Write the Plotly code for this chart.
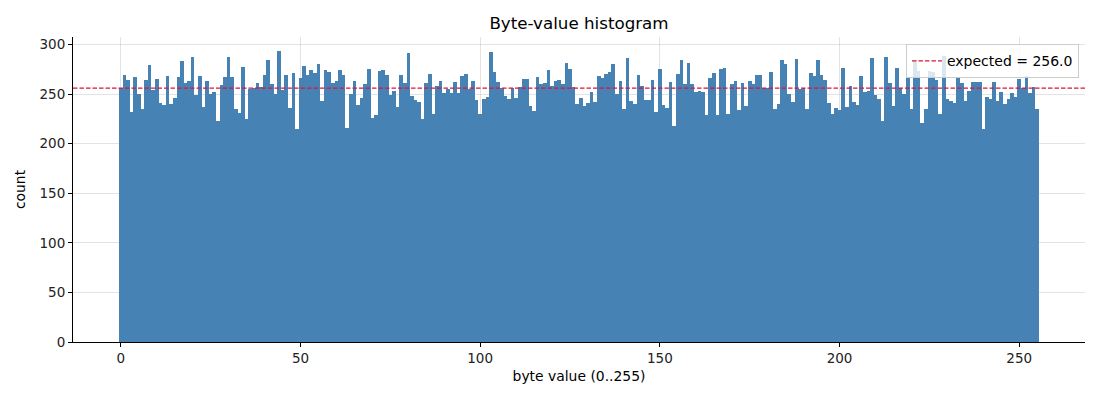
import plotly.graph_objects as go

# Byte values 0..255 and how often each one occurred
byte_values = list(range(256))
counts = [
    256, 269, 264, 232, 267, 250, 235, 264, 279, 254, 265, 241, 239, 268, 240, 246,
    267, 283, 261, 263, 287, 249, 268, 237, 263, 250, 252, 223, 259, 267, 287, 267,
    235, 231, 277, 225, 255, 256, 261, 257, 269, 284, 260, 250, 293, 254, 269, 236,
    271, 215, 266, 278, 269, 274, 271, 280, 243, 274, 272, 261, 263, 274, 269, 216,
    250, 263, 239, 246, 260, 275, 226, 229, 273, 274, 269, 249, 253, 237, 269, 261,
    291, 248, 244, 242, 225, 261, 270, 230, 258, 263, 251, 255, 251, 262, 251, 268,
    270, 255, 263, 244, 230, 245, 247, 292, 272, 262, 256, 248, 245, 256, 246, 257,
    265, 265, 238, 233, 267, 260, 261, 274, 258, 263, 264, 260, 281, 275, 257, 240,
    246, 238, 241, 252, 242, 268, 266, 270, 272, 280, 250, 263, 235, 286, 243, 240,
    269, 258, 244, 244, 264, 232, 275, 239, 236, 262, 218, 270, 284, 260, 281, 260,
    252, 253, 252, 229, 266, 271, 229, 275, 276, 230, 260, 263, 234, 261, 238, 263,
    260, 269, 269, 256, 256, 272, 235, 240, 284, 280, 250, 242, 285, 255, 256, 235,
    271, 268, 284, 269, 264, 241, 230, 236, 234, 276, 237, 258, 242, 239, 268, 252,
    253, 286, 249, 245, 223, 287, 261, 238, 276, 256, 250, 267, 235, 284, 273, 221,
    235, 273, 272, 264, 230, 288, 245, 243, 241, 267, 261, 243, 253, 262, 262, 262,
    215, 247, 245, 262, 243, 252, 240, 245, 251, 247, 265, 256, 268, 251, 257, 235,
]
expected = 256.0
x_ticks = [0, 50, 100, 150, 200, 250]
y_ticks = [0, 50, 100, 150, 200, 250, 300]

font = "DejaVu Sans, Liberation Sans, sans-serif"
grid = "rgba(176,176,176,0.35)"

fig = go.Figure()
fig.add_trace(go.Bar(x=byte_values, y=counts, width=1,
                     marker=dict(color="#4682B4", line=dict(width=0)),
                     showlegend=False, hoverinfo="x+y"))

# Expected count line, shown in the legend
fig.add_hline(y=expected, line=dict(color="#DC143C", width=1.2, dash="4.5px,2px"),
              showlegend=True, name=f"expected = {expected}")

# the page body adds an 8px margin, so the figure is a bit smaller than the window
fig.update_layout(
    width=1092, height=392,
    margin=dict(l=63, r=15, t=29, b=58),
    paper_bgcolor="white", plot_bgcolor="white",
    font=dict(family=font, size=13.5, color="#222"),
    bargap=0,
    title=dict(text="Byte-value histogram", x=0.5, xref="paper", xanchor="center",
               y=1 - 15 / 392, yref="container", yanchor="middle",
               font=dict(size=16.7, color="black")),
    legend=dict(x=0.994, y=0.976, xanchor="right", yanchor="top",
                bgcolor="rgba(255,255,255,0.8)", bordercolor="#cccccc", borderwidth=1,
                font=dict(size=14, color="black")),
)
fig.update_xaxes(
    range=[-13.3, 268.3], tickvals=x_ticks,
    title=dict(text="byte value (0..255)", standoff=6, font=dict(size=13.9, color="black")),
    showgrid=True, gridcolor=grid, gridwidth=1, zeroline=False,
    showline=True, linecolor="black", linewidth=1,
    ticks="outside", ticklen=4, tickcolor="black", layer="above traces",
)
fig.update_yaxes(
    range=[0, 307.6], tickvals=y_ticks,
    title=dict(text="count", standoff=10, font=dict(size=13.9, color="black")),
    showgrid=True, gridcolor=grid, gridwidth=1, zeroline=False,
    showline=True, linecolor="black", linewidth=1,
    ticks="outside", ticklen=4, tickcolor="black", layer="above traces",
)

fig.write_html("out.html")
